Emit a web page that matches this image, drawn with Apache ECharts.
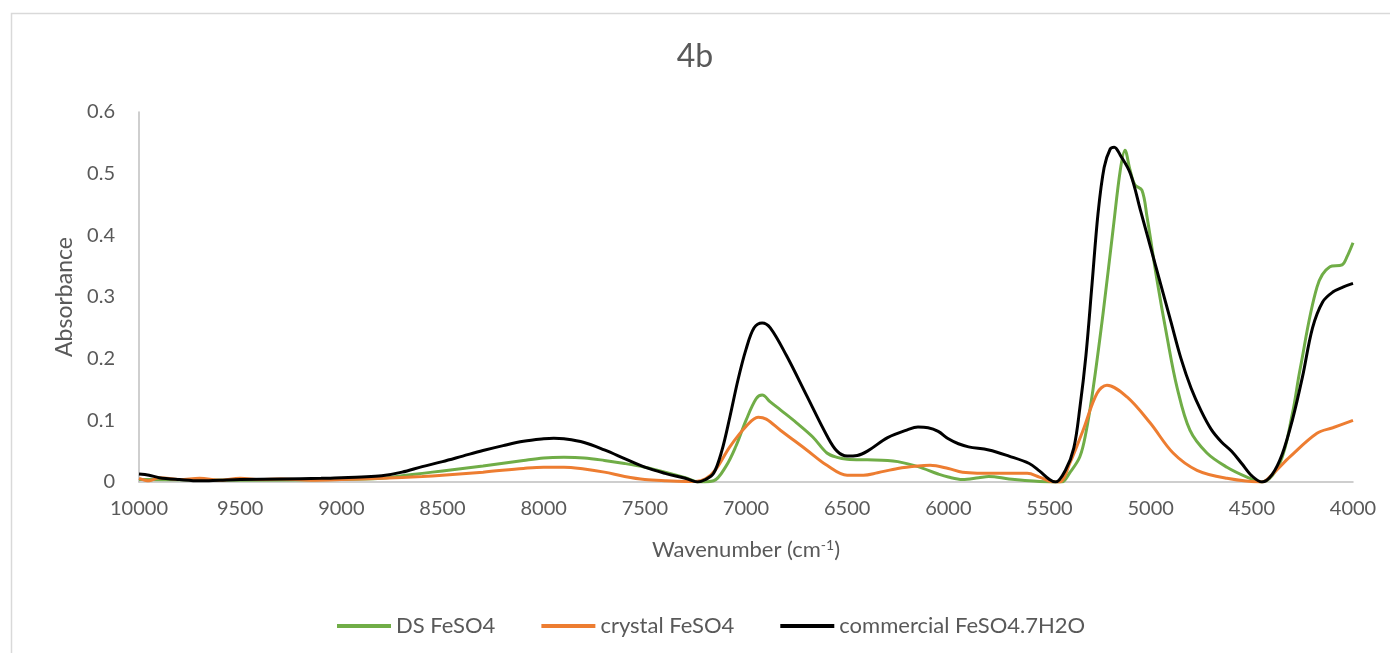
<!DOCTYPE html>
<html>
<head>
<meta charset="utf-8">
<style>
html,body{margin:0;padding:0;background:#fff;}
#chart{width:1390px;height:653px;}
</style>
<script src="https://cdn.jsdelivr.net/npm/echarts@6/dist/echarts.min.js"></script>
</head>
<body>
<div id="chart"></div>
<script>
// ---- data (wavenumber in cm-1, absorbance) ----
const xTicks = [10000, 9500, 9000, 8500, 8000, 7500, 7000, 6500, 6000, 5500, 5000, 4500, 4000];
const yTicks = [0, 0.1, 0.2, 0.3, 0.4, 0.5, 0.6];
const seriesNames = ['DS FeSO4', 'crystal FeSO4', 'commercial FeSO4.7H2O'];

const dsWn = [10000, 9500, 9000, 8800, 8700, 8600, 8500, 8300, 8100, 8000, 7900, 7800, 7700, 7600, 7500, 7400, 7300, 7230, 7160, 7100, 7050, 7000, 6950, 6920, 6880, 6830, 6750, 6670, 6600, 6550, 6500, 6400, 6300, 6250, 6150, 6050, 6000, 5930, 5850, 5800, 5700, 5600, 5480, 5440, 5400, 5350, 5320, 5285, 5235, 5186, 5150, 5127, 5102, 5078, 5043, 5018, 4969, 4919, 4870, 4806, 4722, 4623, 4524, 4450, 4361, 4300, 4262, 4178, 4114, 4054, 4030, 4000];
const dsAbs = [0.004, 0.003, 0.004, 0.006, 0.010, 0.014, 0.018, 0.026, 0.035, 0.039, 0.040, 0.039, 0.035, 0.030, 0.024, 0.016, 0.007, 0.000, 0.002, 0.025, 0.058, 0.100, 0.135, 0.141, 0.130, 0.117, 0.096, 0.073, 0.047, 0.040, 0.037, 0.036, 0.035, 0.033, 0.025, 0.013, 0.008, 0.004, 0.007, 0.009, 0.005, 0.002, 0.000, 0.000, 0.015, 0.041, 0.080, 0.150, 0.274, 0.409, 0.506, 0.538, 0.506, 0.482, 0.473, 0.430, 0.328, 0.235, 0.154, 0.084, 0.047, 0.024, 0.008, 0.000, 0.031, 0.110, 0.182, 0.316, 0.349, 0.352, 0.365, 0.388];

const crWn = [10000, 9950, 9900, 9800, 9700, 9600, 9500, 9400, 9300, 9150, 9000, 8800, 8600, 8500, 8300, 8100, 8000, 7900, 7800, 7700, 7600, 7500, 7400, 7300, 7250, 7200, 7150, 7080, 7000, 6940, 6900, 6830, 6700, 6600, 6500, 6420, 6350, 6250, 6150, 6090, 6000, 5930, 5760, 5610, 5550, 5480, 5450, 5400, 5334, 5265, 5216, 5117, 5003, 4889, 4771, 4623, 4450, 4400, 4311, 4178, 4100, 4000];
const crAbs = [0.006, 0.002, 0.007, 0.004, 0.006, 0.003, 0.006, 0.004, 0.005, 0.003, 0.004, 0.006, 0.009, 0.011, 0.016, 0.022, 0.024, 0.024, 0.021, 0.016, 0.009, 0.004, 0.002, 0.001, 0.001, 0.005, 0.020, 0.057, 0.090, 0.105, 0.102, 0.084, 0.052, 0.027, 0.011, 0.011, 0.015, 0.022, 0.026, 0.027, 0.022, 0.016, 0.014, 0.014, 0.008, 0.000, 0.000, 0.030, 0.084, 0.144, 0.157, 0.138, 0.096, 0.047, 0.019, 0.006, 0.000, 0.012, 0.041, 0.079, 0.088, 0.100];

const coWn = [10000, 9950, 9900, 9800, 9700, 9600, 9500, 9300, 9100, 9000, 8900, 8800, 8700, 8600, 8500, 8400, 8300, 8200, 8100, 8000, 7950, 7900, 7800, 7700, 7600, 7500, 7400, 7300, 7240, 7200, 7160, 7120, 7080, 7040, 7000, 6960, 6920, 6880, 6800, 6700, 6600, 6550, 6500, 6450, 6400, 6300, 6200, 6150, 6100, 6050, 6000, 5950, 5900, 5800, 5700, 5600, 5550, 5500, 5470, 5420, 5380, 5350, 5320, 5290, 5260, 5230, 5200, 5180, 5150, 5100, 5050, 5000, 4950, 4900, 4850, 4800, 4750, 4700, 4650, 4600, 4550, 4500, 4450, 4400, 4350, 4300, 4250, 4200, 4150, 4100, 4050, 4000];
const coAbs = [0.013, 0.011, 0.007, 0.004, 0.002, 0.003, 0.004, 0.005, 0.006, 0.007, 0.008, 0.010, 0.016, 0.025, 0.033, 0.042, 0.051, 0.059, 0.066, 0.070, 0.071, 0.070, 0.064, 0.052, 0.038, 0.024, 0.014, 0.006, 0.000, 0.004, 0.014, 0.050, 0.105, 0.165, 0.215, 0.250, 0.258, 0.250, 0.205, 0.140, 0.075, 0.050, 0.042, 0.043, 0.050, 0.072, 0.085, 0.089, 0.088, 0.082, 0.070, 0.062, 0.057, 0.052, 0.042, 0.030, 0.018, 0.004, 0.000, 0.020, 0.055, 0.120, 0.205, 0.320, 0.436, 0.510, 0.540, 0.543, 0.530, 0.500, 0.440, 0.380, 0.320, 0.260, 0.200, 0.152, 0.115, 0.085, 0.065, 0.050, 0.030, 0.010, 0.000, 0.012, 0.045, 0.100, 0.170, 0.250, 0.292, 0.308, 0.316, 0.322];

const colors = ['#70AD47', '#ED7D31', '#000000'];

function pairs(wn, ab) { return wn.map((w, i) => [w, ab[i]]); }

const FONT = 'Lato';
const chart = echarts.init(document.getElementById('chart'), null, {renderer: 'canvas'});
const option = {
  backgroundColor: '#ffffff',
  animation: false,
  textStyle: {fontFamily: FONT},
  title: {
    text: '4b', left: 'center', top: 36,
    textStyle: {fontFamily: FONT, fontSize: 32, fontWeight: 'normal', color: '#595959'}
  },
  graphic: [{
    type: 'rect', silent: true, z: -1,
    shape: {x: 11.5, y: 13.5, width: 1400, height: 700},
    style: {fill: 'none', stroke: '#D9D9D9', lineWidth: 1.5}
  }],
  legend: {
    left: 332, top: 610,
    icon: 'rect', itemWidth: 54, itemHeight: 4, itemGap: 46,
    textStyle: {fontFamily: FONT, fontSize: 22, color: '#595959'},
    data: seriesNames
  },
  grid: {left: 139, right: 37, top: 112, bottom: 171, containLabel: false},
  xAxis: {
    type: 'value', inverse: true, min: 4000, max: 10000, interval: 500,
    name: 'Wavenumber (cm{sup|-1})', nameLocation: 'middle', nameGap: 56,
    nameTextStyle: {
      fontFamily: FONT, fontSize: 22, color: '#595959',
      rich: {sup: {fontFamily: FONT, fontSize: 14, color: '#595959', verticalAlign: 'top', padding: [0, 0, 10, 0]}}
    },
    axisLine: {show: true, lineStyle: {color: '#BFBFBF', width: 1.5}},
    axisTick: {show: false},
    splitLine: {show: false},
    axisLabel: {
      margin: 17, fontFamily: FONT, fontSize: 20, color: '#595959',
      showMinLabel: true, showMaxLabel: true,
      formatter: v => (xTicks.indexOf(v) >= 0 ? String(v) : '')
    }
  },
  yAxis: {
    type: 'value', min: 0, max: 0.6, interval: 0.1,
    name: 'Absorbance', nameLocation: 'middle', nameGap: 63, nameRotate: 90,
    nameTextStyle: {fontFamily: FONT, fontSize: 23, color: '#595959'},
    axisLine: {show: true, lineStyle: {color: '#BFBFBF', width: 1.5}},
    axisTick: {show: false},
    splitLine: {show: false},
    axisLabel: {
      margin: 24, fontFamily: FONT, fontSize: 20, color: '#595959',
      formatter: v => {
        const t = yTicks.find(y => Math.abs(y - v) < 1e-9);
        return t === undefined ? '' : String(t);
      }
    }
  },
  series: [
    {name: seriesNames[0], type: 'line', data: pairs(dsWn, dsAbs), showSymbol: false, symbol: 'none',
     smooth: 0.35, lineStyle: {color: colors[0], width: 3}, itemStyle: {color: colors[0]}, z: 2},
    {name: seriesNames[1], type: 'line', data: pairs(crWn, crAbs), showSymbol: false, symbol: 'none',
     smooth: 0.35, lineStyle: {color: colors[1], width: 3}, itemStyle: {color: colors[1]}, z: 3},
    {name: seriesNames[2], type: 'line', data: pairs(coWn, coAbs), showSymbol: false, symbol: 'none',
     smooth: 0.35, lineStyle: {color: colors[2], width: 3}, itemStyle: {color: colors[2]}, z: 4}
  ]
};
chart.setOption(option);
</script>
</body>
</html>
